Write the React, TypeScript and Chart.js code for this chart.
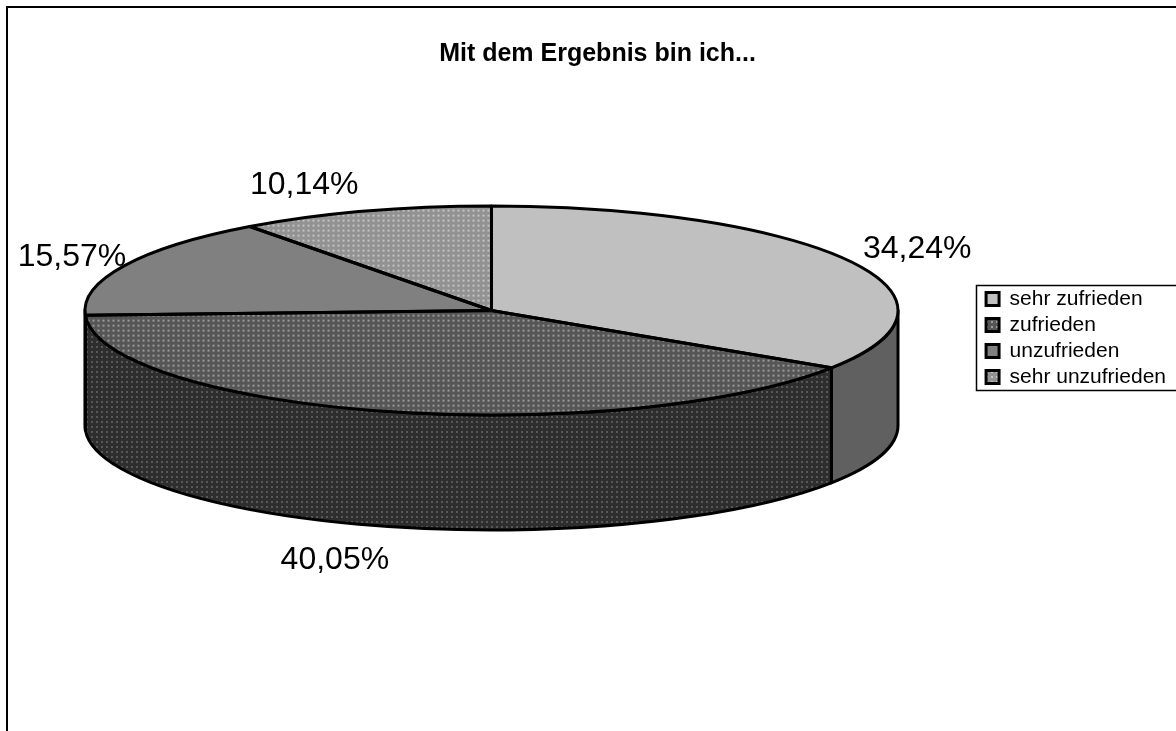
import React, { useEffect, useRef } from "react";
import { Chart, registerables } from "chart.js";

Chart.register(...registerables);

const titleText = "Mit dem Ergebnis bin ich...";
const categories = ["sehr zufrieden", "zufrieden", "unzufrieden", "sehr unzufrieden"];
const shares = [34.24, 40.05, 15.57, 10.14];

const FONT = '"Liberation Sans", Arial, sans-serif';
const CENTER_X = 491.5;
const CENTER_Y = 310.5;
const RADIUS_X = 406.5;
const RADIUS_Y = 104.5;
const DEPTH = 115;
const SQUASH = RADIUS_Y / RADIUS_X;

const topStyles = [
  { base: "#c0c0c0" },
  { base: "#565656", dot: "#9a9a9a" },
  { base: "#808080" },
  { base: "#929292", dot: "#c4c4c4" },
];
const sideStyles = [
  { base: "#606060" },
  { base: "#2e2e2e", dot: "#585858" },
  { base: "#404040" },
  { base: "#494949", dot: "#626262" },
];
const labelNudges = [
  { dx: 68, dy: -12 },
  { dx: -49, dy: 149 },
  { dx: -52.5, dy: -8.5 },
  { dx: -60, dy: -26 },
];

function makeFill(ctx: CanvasRenderingContext2D, s: { base: string; dot?: string }, unsquash: boolean): any {
  if (!s.dot) return s.base;
  const tile = document.createElement("canvas");
  tile.width = 5;
  tile.height = 5;
  const t = tile.getContext("2d")!;
  t.fillStyle = s.base;
  t.fillRect(0, 0, 5, 5);
  t.fillStyle = s.dot;
  t.fillRect(1, 1, 2, 2);
  const p = ctx.createPattern(tile, "repeat")!;
  if (unsquash) p.setTransform(new DOMMatrix().scale(1, 1 / SQUASH));
  return p;
}

const norm = (a: number) => {
  const two = Math.PI * 2;
  return ((a % two) + two) % two;
};

const pie3d = {
  id: "pie3d",
  beforeDraw(chart: any) {
    const { ctx, width, height } = chart;
    ctx.save();
    ctx.fillStyle = "#ffffff";
    ctx.fillRect(0, 0, width, height);
    ctx.fillStyle = "#000000";
    ctx.fillRect(6, 6, width - 6, 2);
    ctx.fillRect(6, 6, 2, height - 6);
    ctx.restore();
  },
  beforeDatasetsDraw(chart: any) {
    const { ctx } = chart;
    const arcs = chart.getDatasetMeta(0).data;
    const sides = sideStyles.map((s) => makeFill(ctx, s, false));
    ctx.save();
    ctx.lineWidth = 3;
    ctx.strokeStyle = "#000000";
    ctx.lineJoin = "round";
    arcs.forEach((arc: any, i: number) => {
      const span = arc.endAngle - arc.startAngle;
      const start = norm(arc.startAngle);
      const end = start + span;
      for (const offset of [0, Math.PI * 2]) {
        const a = Math.max(start, offset);
        const b = Math.min(end, offset + Math.PI);
        if (b <= a) continue;
        ctx.beginPath();
        ctx.ellipse(CENTER_X, CENTER_Y, RADIUS_X, RADIUS_Y, 0, a, b);
        ctx.ellipse(CENTER_X, CENTER_Y + DEPTH, RADIUS_X, RADIUS_Y, 0, b, a, true);
        ctx.closePath();
        ctx.fillStyle = sides[i];
        ctx.fill();
        ctx.stroke();
      }
    });
    ctx.restore();
    const first = arcs[0];
    ctx.save();
    ctx.translate(CENTER_X, CENTER_Y);
    ctx.scale(1, SQUASH);
    ctx.translate(-first.x, -first.y);
  },
  afterDatasetsDraw(chart: any) {
    const { ctx } = chart;
    ctx.restore();
    const arcs = chart.getDatasetMeta(0).data;
    ctx.save();
    ctx.lineWidth = 3;
    ctx.strokeStyle = "#000000";
    ctx.lineJoin = "round";
    arcs.forEach((arc: any) => {
      ctx.beginPath();
      ctx.moveTo(CENTER_X, CENTER_Y);
      ctx.ellipse(CENTER_X, CENTER_Y, RADIUS_X, RADIUS_Y, 0, arc.startAngle, arc.endAngle);
      ctx.closePath();
      ctx.stroke();
    });
    ctx.fillStyle = "#000000";
    ctx.font = `32px ${FONT}`;
    ctx.textAlign = "center";
    ctx.textBaseline = "middle";
    arcs.forEach((arc: any, i: number) => {
      const mid = (arc.startAngle + arc.endAngle) / 2;
      const x = CENTER_X + RADIUS_X * Math.cos(mid) + labelNudges[i].dx;
      const y = CENTER_Y + RADIUS_Y * Math.sin(mid) + labelNudges[i].dy;
      ctx.fillText(shares[i].toFixed(2).replace(".", ",") + "%", x, y);
    });
    ctx.restore();
  },
  afterDraw(chart: any) {
    const { ctx, legend } = chart;
    if (!legend) return;
    const boxes = legend.legendHitBoxes;
    const top = boxes[0].top - 2 - 1;
    const last = boxes[boxes.length - 1];
    const bottom = last.top + last.height + 2 + 1;
    ctx.save();
    ctx.strokeStyle = "#000000";
    ctx.lineWidth = 1.5;
    ctx.strokeRect(976.5, top, 300, bottom - top);
    ctx.restore();
  },
};

export default function App() {
  const ref = useRef<HTMLCanvasElement>(null);
  useEffect(() => {
    const canvas = ref.current!;
    const ctx = canvas.getContext("2d")!;
    const tops = topStyles.map((s) => makeFill(ctx, s, true));
    const keys = topStyles.map((s) => makeFill(ctx, s, false));
    const chart = new Chart(canvas, {
      type: "pie",
      data: {
        labels: categories,
        datasets: [
          {
            data: shares,
            backgroundColor: tops,
            borderWidth: 0,
            radius: RADIUS_X,
            clip: false,
          } as any,
        ],
      },
      plugins: [pie3d],
      options: {
        responsive: false,
        animation: false,
        events: [],
        layout: { padding: { left: 19, right: 0, top: 0, bottom: 55 } },
        plugins: {
          tooltip: { enabled: false },
          title: {
            display: true,
            text: titleText,
            color: "#000000",
            font: { family: FONT, size: 25, weight: "bold" },
            padding: { top: 39, bottom: 9 },
          },
          legend: {
            display: true,
            position: "right",
            labels: {
              color: "#000000",
              font: { family: FONT, size: 21 },
              boxWidth: 13,
              boxHeight: 13,
              padding: 5,
              generateLabels: () =>
                categories.map((text, i) => ({
                  text,
                  fillStyle: keys[i],
                  strokeStyle: "#000000",
                  lineWidth: 3,
                  hidden: false,
                  index: i,
                  datasetIndex: 0,
                })),
            },
          },
        },
      } as any,
    });
    return () => chart.destroy();
  }, []);
  return (
    <div style={{ position: "absolute", left: 0, top: 0, width: 1176, height: 731, overflow: "hidden" }}>
      <canvas ref={ref} width={1176} height={731} style={{ display: "block" }} />
    </div>
  );
}
